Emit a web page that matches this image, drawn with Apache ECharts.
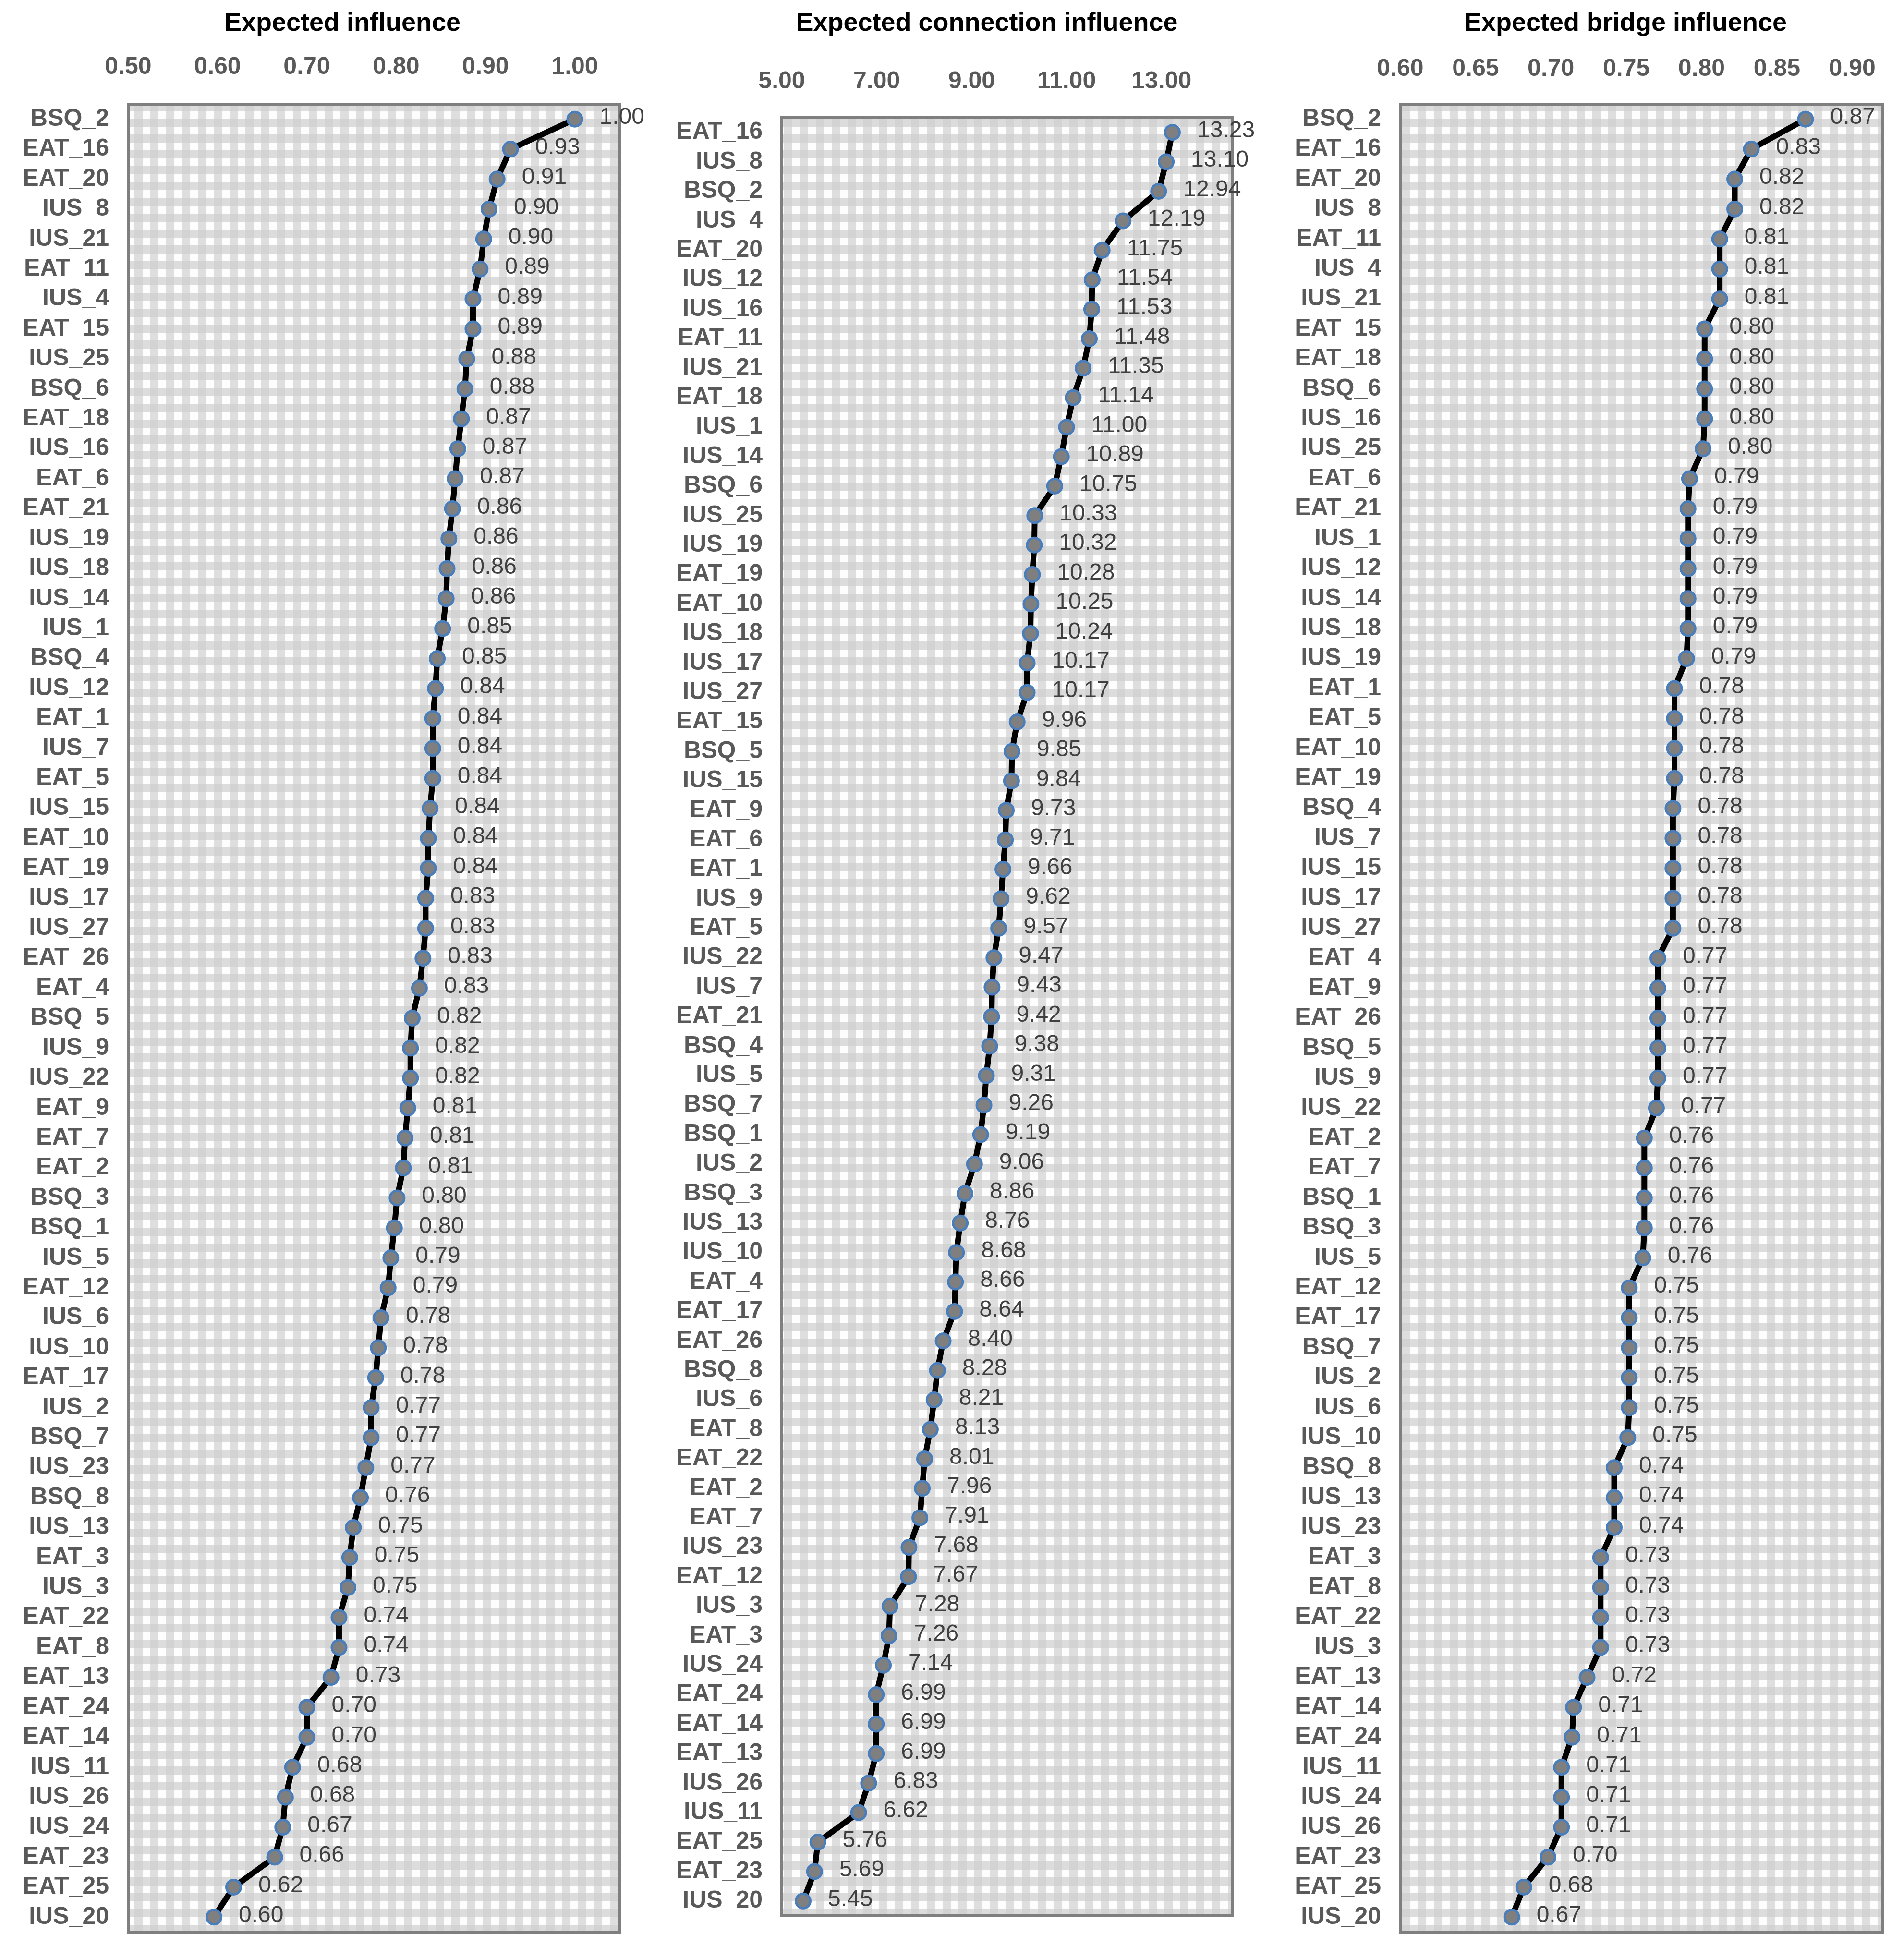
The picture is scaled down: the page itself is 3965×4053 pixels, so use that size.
<!DOCTYPE html>
<html>
<head>
<meta charset="utf-8">
<script src="https://cdn.jsdelivr.net/npm/echarts@6/dist/echarts.min.js"></script>
<style>
html,body{margin:0;padding:0;background:#fff;}
#chart{width:3965px;height:4053px;}
</style>
</head>
<body>
<div id="chart"></div>
<script>
const titles = ['Expected influence', 'Expected connection influence', 'Expected bridge influence'];

// ---------- Panel 1: Expected influence ----------
const cats1 = ['BSQ_2','EAT_16','EAT_20','IUS_8','IUS_21','EAT_11','IUS_4','EAT_15','IUS_25','BSQ_6',
  'EAT_18','IUS_16','EAT_6','EAT_21','IUS_19','IUS_18','IUS_14','IUS_1','BSQ_4','IUS_12',
  'EAT_1','IUS_7','EAT_5','IUS_15','EAT_10','EAT_19','IUS_17','IUS_27','EAT_26','EAT_4',
  'BSQ_5','IUS_9','IUS_22','EAT_9','EAT_7','EAT_2','BSQ_3','BSQ_1','IUS_5','EAT_12',
  'IUS_6','IUS_10','EAT_17','IUS_2','BSQ_7','IUS_23','BSQ_8','IUS_13','EAT_3','IUS_3',
  'EAT_22','EAT_8','EAT_13','EAT_24','EAT_14','IUS_11','IUS_26','IUS_24','EAT_23','EAT_25','IUS_20'];
const vals1 = [1.000,0.928,0.913,0.904,0.898,0.894,0.886,0.886,0.879,0.877,
  0.873,0.869,0.866,0.863,0.859,0.857,0.856,0.852,0.846,0.844,
  0.841,0.841,0.841,0.838,0.836,0.836,0.833,0.833,0.830,0.826,
  0.818,0.816,0.816,0.813,0.810,0.808,0.801,0.798,0.794,0.791,
  0.783,0.780,0.777,0.772,0.772,0.766,0.760,0.752,0.748,0.746,
  0.736,0.736,0.727,0.700,0.700,0.684,0.676,0.673,0.664,0.618,0.596];
const ticks1 = {min: 0.5, max: 1.05, interval: 0.1};

// ---------- Panel 2: Expected connection influence ----------
const cats2 = ['EAT_16','IUS_8','BSQ_2','IUS_4','EAT_20','IUS_12','IUS_16','EAT_11','IUS_21','EAT_18',
  'IUS_1','IUS_14','BSQ_6','IUS_25','IUS_19','EAT_19','EAT_10','IUS_18','IUS_17','IUS_27',
  'EAT_15','BSQ_5','IUS_15','EAT_9','EAT_6','EAT_1','IUS_9','EAT_5','IUS_22','IUS_7',
  'EAT_21','BSQ_4','IUS_5','BSQ_7','BSQ_1','IUS_2','BSQ_3','IUS_13','IUS_10','EAT_4',
  'EAT_17','EAT_26','BSQ_8','IUS_6','EAT_8','EAT_22','EAT_2','EAT_7','IUS_23','EAT_12',
  'IUS_3','EAT_3','IUS_24','EAT_24','EAT_14','EAT_13','IUS_26','IUS_11','EAT_25','EAT_23','IUS_20'];
const vals2 = [13.23,13.10,12.94,12.19,11.75,11.54,11.53,11.48,11.35,11.14,
  11.00,10.89,10.75,10.33,10.32,10.28,10.25,10.24,10.17,10.17,
  9.96,9.85,9.84,9.73,9.71,9.66,9.62,9.57,9.47,9.43,
  9.42,9.38,9.31,9.26,9.19,9.06,8.86,8.76,8.68,8.66,
  8.64,8.40,8.28,8.21,8.13,8.01,7.96,7.91,7.68,7.67,
  7.28,7.26,7.14,6.99,6.99,6.99,6.83,6.62,5.76,5.69,5.45];
const ticks2 = {min: 5, max: 14.5, interval: 2};

// ---------- Panel 3: Expected bridge influence ----------
const cats3 = ['BSQ_2','EAT_16','EAT_20','IUS_8','EAT_11','IUS_4','IUS_21','EAT_15','EAT_18','BSQ_6',
  'IUS_16','IUS_25','EAT_6','EAT_21','IUS_1','IUS_12','IUS_14','IUS_18','IUS_19','EAT_1',
  'EAT_5','EAT_10','EAT_19','BSQ_4','IUS_7','IUS_15','IUS_17','IUS_27','EAT_4','EAT_9',
  'EAT_26','BSQ_5','IUS_9','IUS_22','EAT_2','EAT_7','BSQ_1','BSQ_3','IUS_5','EAT_12',
  'EAT_17','BSQ_7','IUS_2','IUS_6','IUS_10','BSQ_8','IUS_13','IUS_23','EAT_3','EAT_8',
  'EAT_22','IUS_3','EAT_13','EAT_14','EAT_24','IUS_11','IUS_24','IUS_26','EAT_23','EAT_25','IUS_20'];
const vals3 = [0.869,0.833,0.822,0.822,0.812,0.812,0.812,0.802,0.802,0.802,
  0.802,0.801,0.792,0.791,0.791,0.791,0.791,0.791,0.790,0.782,
  0.782,0.782,0.782,0.781,0.781,0.781,0.781,0.781,0.771,0.771,
  0.771,0.771,0.771,0.770,0.762,0.762,0.762,0.762,0.761,0.752,
  0.752,0.752,0.752,0.752,0.751,0.742,0.742,0.742,0.733,0.733,
  0.733,0.733,0.724,0.715,0.714,0.707,0.707,0.707,0.698,0.682,0.674];
const ticks3 = {min: 0.6, max: 0.92, interval: 0.05};

// ---------- Styling / layout ----------
function makePattern() {
  const c = document.createElement('canvas');
  const P = 33;
  c.width = P; c.height = P;
  const g = c.getContext('2d');
  g.fillStyle = '#fdfdfd'; g.fillRect(0, 0, P, P);
  g.fillStyle = '#dedede'; g.fillRect(16, 0, 17, P);
  g.fillStyle = '#dcdcdc'; g.fillRect(0, 16, P, 17);
  g.fillStyle = '#d3d3d3'; g.fillRect(16, 16, 17, 17);
  return c;
}
const pattern = {image: makePattern(), repeat: 'repeat'};

const panels = [
  {cats: cats1, vals: vals1, ticks: ticks1, grid: {left: 267, top: 217, width: 1023, height: 3807}, titleX: 713, labelMargin: 52},
  {cats: cats2, vals: vals2, ticks: ticks2, grid: {left: 1628, top: 245, width: 939, height: 3745}, titleX: 2055, labelMargin: 50},
  {cats: cats3, vals: vals3, ticks: ticks3, grid: {left: 2916, top: 217, width: 1004, height: 3807}, titleX: 3385, labelMargin: 48}
];

const FONT = '"Liberation Sans", Arial, sans-serif';
const NARROW = '"Liberation Sans Narrow", "Arial Narrow", "Liberation Sans", sans-serif';

const option = {
  animation: false,
  backgroundColor: '#ffffff',
  title: panels.map((p, i) => ({
    text: titles[i],
    left: p.titleX,
    top: 22,
    textAlign: 'center',
    padding: 0,
    textStyle: {fontFamily: FONT, fontSize: 54, fontWeight: 'bold', color: '#000000'}
  })),
  grid: panels.map(p => Object.assign({
    show: true,
    backgroundColor: pattern,
    borderColor: '#7f7f7f',
    borderWidth: 6,
    containLabel: false
  }, p.grid)),
  xAxis: panels.map((p, i) => ({
    type: 'value',
    gridIndex: i,
    position: 'top',
    min: p.ticks.min,
    max: p.ticks.max,
    interval: p.ticks.interval,
    axisLine: {show: false},
    axisTick: {show: false},
    splitLine: {show: false},
    axisLabel: {
      showMaxLabel: false,
      margin: p.labelMargin,
      fontFamily: FONT,
      fontSize: 50,
      fontWeight: 'bold',
      color: '#595959',
      formatter: v => v.toFixed(2)
    }
  })),
  yAxis: panels.map((p, i) => ({
    type: 'category',
    gridIndex: i,
    inverse: true,
    data: p.cats,
    axisLine: {show: false},
    axisTick: {show: false},
    splitLine: {show: false},
    axisLabel: {
      interval: 0,
      margin: 40,
      fontFamily: FONT,
      fontSize: 50,
      fontWeight: 'bold',
      color: '#595959'
    }
  })),
  series: panels.map((p, i) => ({
    type: 'line',
    xAxisIndex: i,
    yAxisIndex: i,
    data: p.vals,
    symbol: 'circle',
    symbolSize: 30,
    lineStyle: {color: '#000000', width: 12, join: 'round', cap: 'round'},
    itemStyle: {color: '#7f7f7f', borderColor: '#4a7ebb', borderWidth: 5},
    label: {
      show: true,
      position: 'right',
      distance: 34,
      offset: [0, -3],
      fontFamily: NARROW,
      fontSize: 48,
      color: '#404040',
      formatter: d => d.value.toFixed(2)
    }
  }))
};

const chart = echarts.init(document.getElementById('chart'), null, {renderer: 'canvas'});
chart.setOption(option);
</script>
</body>
</html>
